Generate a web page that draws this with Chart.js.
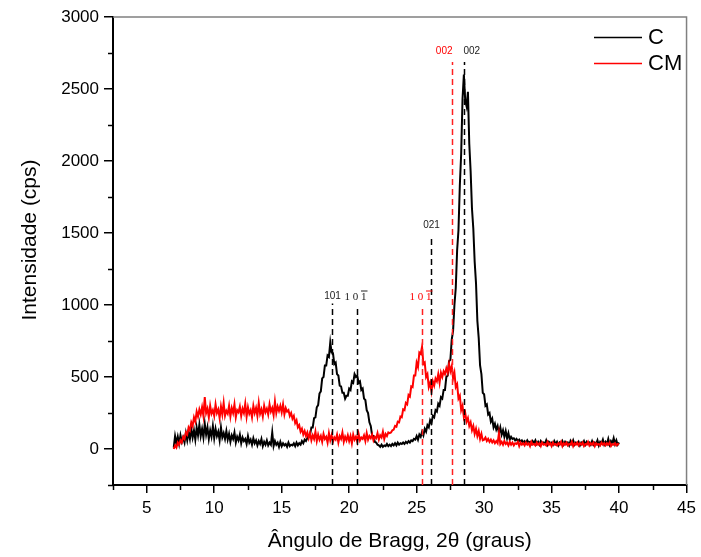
<!DOCTYPE html>
<html>
<head>
<meta charset="utf-8">
<script src="https://cdn.jsdelivr.net/npm/chart.js@4.4.1/dist/chart.umd.min.js"></script>
<style>
  html, body { margin: 0; padding: 0; background: #ffffff; }
  #wrap { width: 701px; height: 557px; }
</style>
</head>
<body>
<div id="wrap"><canvas id="xrd" width="701" height="557"></canvas></div>
<script>
// Difratograma de raios X: amostras C e CM, varredura de 7 a 40 graus (2θ), passo 0.1
const ANGLE_START = 7.0;
const ANGLE_STEP = 0.1;

// Intensidade (cps) da amostra C, um valor por passo
const cIntensity = [
  10, 90, 40, 85, 35, 95, 50, 80, 45, 110,
  60, 120, 70, 140, 80, 130, 65, 150, 95, 170,
  90, 140, 80, 175, 100, 150, 70, 130, 85, 160,
  75, 140, 90, 120, 60, 150, 80, 110, 70, 125,
  65, 105, 50, 95, 70, 115, 45, 85, 60, 100,
  40, 80, 55, 70, 35, 90, 45, 65, 30, 75,
  40, 60, 25, 55, 35, 70, 20, 50, 30, 60,
  25, 45, 30, 115, 20, 55, 30, 45, 15, 50,
  20, 40, 25, 35, 15, 45, 20, 30, 25, 40,
  20, 45, 25, 40, 30, 55, 40, 65, 55, 75,
  95, 100, 150, 150, 215, 220, 290, 305, 385, 400,
  490, 500, 580, 580, 650, 640, 740, 670, 665, 590,
  600, 520, 510, 440, 435, 390, 390, 350, 370, 370,
  420, 410, 470, 460, 520, 500, 510, 460, 470, 410,
  420, 350, 340, 270, 250, 185, 160, 95, 90, 50,
  45, 30, 25, 15, 30, 15, 25, 20, 35, 20,
  30, 20, 35, 25, 40, 25, 45, 30, 40, 35,
  45, 35, 50, 40, 55, 45, 60, 55, 70, 65,
  90, 65, 100, 85, 120, 95, 140, 120, 165, 150,
  200, 180, 230, 220, 270, 260, 315, 300, 360, 350,
  410, 410, 500, 510, 610, 620, 760, 820, 1000, 1120,
  1380, 1520, 1830, 2050, 2430, 2600, 2420, 2380, 2480, 2120,
  1930, 1670, 1530, 1300, 1150, 890, 770, 580, 520, 390,
  380, 300, 310, 240, 250, 190, 210, 150, 175, 135,
  160, 110, 150, 100, 130, 85, 125, 75, 110, 65,
  85, 70, 75, 60, 70, 55, 65, 50, 60, 45,
  55, 40, 60, 45, 50, 35, 55, 40, 60, 35,
  50, 30, 55, 40, 45, 35, 60, 30, 50, 40,
  45, 30, 55, 35, 50, 25, 45, 35, 55, 30,
  50, 35, 45, 25, 55, 35, 60, 30, 45, 35,
  50, 25, 45, 35, 55, 30, 50, 35, 45, 30,
  55, 30, 45, 35, 60, 25, 50, 40, 65, 30,
  50, 35, 70, 30, 55, 40, 75, 35, 60, 30,
  45
];

// Intensidade (cps) da amostra CM, um valor por passo
const cmIntensity = [
  0, 25, 10, 45, 30, 60, 45, 85, 70, 115,
  100, 150, 130, 185, 160, 220, 190, 260, 225, 275,
  240, 290, 230, 360, 250, 280, 220, 300, 245, 270,
  230, 310, 250, 275, 215, 295, 240, 320, 230, 265,
  245, 300, 225, 285, 250, 310, 220, 270, 255, 295,
  230, 280, 250, 315, 225, 290, 245, 270, 220, 300,
  250, 285, 230, 320, 245, 275, 225, 300, 255, 280,
  240, 310, 260, 285, 235, 330, 250, 295, 265, 300,
  255, 310, 240, 285, 260, 270, 230, 250, 210, 230,
  180, 200, 150, 165, 120, 140, 100, 125, 90, 115,
  75, 110, 60, 95, 70, 120, 55, 100, 65, 90,
  50, 105, 70, 85, 45, 110, 60, 95, 50, 80,
  65, 100, 45, 90, 70, 115, 50, 85, 60, 95,
  55, 90, 40, 100, 65, 85, 50, 105, 60, 80,
  70, 95, 55, 110, 65, 90, 75, 100, 60, 85,
  75, 110, 65, 95, 80, 120, 70, 105, 90, 115,
  110, 115, 130, 135, 160, 155, 190, 185, 225, 220,
  275, 270, 320, 310, 375, 365, 435, 430, 510, 510,
  600, 570, 670, 660, 710, 590, 600, 500, 520, 430,
  460, 400, 470, 440, 490, 470, 520, 460, 530, 500,
  540, 520, 560, 530, 590, 540, 575, 490, 530, 430,
  450, 350, 370, 270, 300, 220, 250, 190, 215, 160,
  185, 130, 160, 105, 140, 90, 125, 70, 105, 60,
  65, 80, 55, 70, 50, 65, 45, 60, 40, 55,
  40, 110, 35, 50, 30, 55, 35, 45, 25, 50,
  30, 45, 25, 40, 35, 50, 20, 45, 30, 40,
  25, 45, 30, 40, 20, 50, 30, 35, 25, 45,
  30, 40, 20, 45, 30, 35, 25, 50, 30, 40,
  20, 45, 30, 35, 25, 40, 30, 50, 20, 40,
  30, 45, 25, 35, 30, 50, 20, 40, 30, 45,
  25, 40, 30, 45, 20, 35, 30, 50, 25, 40,
  30, 45, 20, 40, 30, 35, 25, 45, 30, 40,
  25, 40, 30, 45, 20, 35, 30, 40, 25, 35,
  30
];

// Marcas principais dos eixos
const xTickValues = [5, 10, 15, 20, 25, 30, 35, 40, 45];
const yTickValues = [0, 500, 1000, 1500, 2000, 2500, 3000];

// Reflexões indexadas (posição 2θ, altura da linha tracejada, altura do rótulo)
const cPeakAngles = [18.7, 20.6, 26.1, 28.5];
const cPeakTops = [1010, 1000, 1467, 2688];
const cPeakLabelY = [1062, 1052, 1552, 2760];
const cPeakLabels = ['101', '1 0 1\u0304', '021', '002'];

const cmPeakAngles = [25.4, 27.6];
const cmPeakTops = [1000, 2688];
const cmPeakLabelY = [1052, 2760];
const cmPeakLabels = ['1 0 1\u0304', '002'];

const seriesNames = ['C', 'CM'];
const seriesColors = ['#000000', '#ff0000'];

const xTitle = 'Ângulo de Bragg, 2θ (graus)';
const yTitle = 'Intensidade (cps)';

const FONT = "'Liberation Sans', Arial, sans-serif";
const SERIF = "'Liberation Serif', 'Times New Roman', serif";

function toPoints(values) {
  return values.map((v, i) => ({ x: +(ANGLE_START + i * ANGLE_STEP).toFixed(2), y: v }));
}

// Linhas tracejadas das reflexões e seus índices de Miller
const peakMarkers = {
  id: 'peakMarkers',
  afterDatasetsDraw(chart) {
    const { ctx, scales: { x, y } } = chart;
    const groups = [
      { angles: cPeakAngles, tops: cPeakTops, labelY: cPeakLabelY, labels: cPeakLabels,
        line: '#000000', text: '#222222', align: ['center', 'center', 'center', 'left'] },
      { angles: cmPeakAngles, tops: cmPeakTops, labelY: cmPeakLabelY, labels: cmPeakLabels,
        line: '#ff2020', text: '#ff0000', align: ['center', 'right'] }
    ];
    ctx.save();
    groups.forEach(g => {
      g.angles.forEach((a, i) => {
        const px = Math.round(x.getPixelForValue(a)) + 0.5;
        ctx.beginPath();
        ctx.setLineDash([6, 4]);
        ctx.lineWidth = 1.5;
        ctx.strokeStyle = g.line;
        ctx.moveTo(px, y.getPixelForValue(y.min));
        ctx.lineTo(px, y.getPixelForValue(g.tops[i]));
        ctx.stroke();
        ctx.setLineDash([]);

        const label = g.labels[i];
        const ly = y.getPixelForValue(g.labelY[i]);
        ctx.fillStyle = g.text;
        ctx.textBaseline = 'middle';
        if (label.includes('\u0304')) {
          // índice com barra sobre o último dígito, em fonte serifada
          const plain = label.replace('\u0304', '');
          ctx.font = '11px ' + SERIF;
          ctx.textAlign = 'left';
          const w = ctx.measureText(plain).width;
          const x0 = px - w / 2 - 2;
          ctx.fillText(plain, x0, ly);
          const lastW = ctx.measureText(plain.slice(-1)).width;
          ctx.strokeStyle = g.text;
          ctx.lineWidth = 1;
          ctx.beginPath();
          ctx.moveTo(x0 + w - lastW, ly - 6.5);
          ctx.lineTo(x0 + w + 1, ly - 6.5);
          ctx.stroke();
        } else {
          ctx.font = '10px ' + FONT;
          const al = g.align[i];
          ctx.textAlign = al;
          const tx = al === 'left' ? px - 1 : px;
          ctx.fillText(label, tx, ly);
        }
      });
    });
    ctx.restore();
  }
};

// Moldura superior/direita, marcas menores, títulos dos eixos e legenda
const frameDecor = {
  id: 'frameDecor',
  afterDraw(chart) {
    const { ctx, chartArea: ca, scales: { x, y } } = chart;
    ctx.save();
    ctx.strokeStyle = '#808080';
    ctx.lineWidth = 1.5;
    ctx.beginPath();
    ctx.moveTo(ca.left, ca.top);
    ctx.lineTo(ca.right, ca.top);
    ctx.lineTo(ca.right, ca.bottom);
    ctx.stroke();

    ctx.strokeStyle = '#000000';
    ctx.lineWidth = 1.5;
    for (let v = 2.5; v < 45; v += 5) {
      const px = Math.round(x.getPixelForValue(v)) + 0.5;
      ctx.beginPath();
      ctx.moveTo(px, ca.bottom);
      ctx.lineTo(px, ca.bottom + 5);
      ctx.stroke();
    }
    for (let v = -250; v < 3000; v += 500) {
      const py = Math.round(y.getPixelForValue(v)) + 0.5;
      ctx.beginPath();
      ctx.moveTo(ca.left - 5, py);
      ctx.lineTo(ca.left, py);
      ctx.stroke();
    }

    ctx.fillStyle = '#000000';
    ctx.font = '21px ' + FONT;
    ctx.textAlign = 'center';
    ctx.textBaseline = 'middle';
    ctx.fillText(xTitle, (ca.left + ca.right) / 2, 541);
    ctx.save();
    ctx.translate(30, 240);
    ctx.rotate(-Math.PI / 2);
    ctx.fillText(yTitle, 0, 0);
    ctx.restore();

    ctx.font = '22px ' + FONT;
    ctx.textAlign = 'left';
    seriesNames.forEach((name, i) => {
      const ly = 37 + i * 26;
      ctx.strokeStyle = seriesColors[i];
      ctx.lineWidth = 1.3;
      ctx.beginPath();
      ctx.moveTo(594, ly + 0.5);
      ctx.lineTo(642, ly + 0.5);
      ctx.stroke();
      ctx.fillStyle = '#000000';
      ctx.fillText(name, 648, ly + 1);
    });
    ctx.restore();
  }
};

new Chart(document.getElementById('xrd'), {
  type: 'line',
  data: {
    datasets: [
      { label: seriesNames[0], data: toPoints(cIntensity), borderColor: seriesColors[0],
        borderWidth: 2, pointRadius: 0, tension: 0, order: 1 },
      { label: seriesNames[1], data: toPoints(cmIntensity), borderColor: seriesColors[1],
        borderWidth: 2, pointRadius: 0, tension: 0, order: 0 }
    ]
  },
  options: {
    responsive: false,
    devicePixelRatio: 1,
    animation: false,
    layout: { padding: { top: 17, right: 12, left: 0, bottom: 0 } },
    plugins: { legend: { display: false }, tooltip: { enabled: false } },
    scales: {
      x: {
        type: 'linear', min: 2.5, max: 45,
        afterBuildTicks: s => { s.ticks = xTickValues.map(v => ({ value: v })); },
        ticks: { color: '#000', padding: 5, maxRotation: 0, autoSkip: false,
                 font: { family: FONT, size: 17 }, callback: v => String(v) },
        grid: { drawOnChartArea: false, drawTicks: true, tickLength: 8, color: '#000', lineWidth: 1.5 },
        border: { color: '#000', width: 2 },
        afterFit: s => { s.height = 72; }
      },
      y: {
        type: 'linear', min: -250, max: 3000,
        afterBuildTicks: s => { s.ticks = yTickValues.map(v => ({ value: v })); },
        ticks: { color: '#000', padding: 5, autoSkip: false,
                 font: { family: FONT, size: 17 }, callback: v => String(v) },
        grid: { drawOnChartArea: false, drawTicks: true, tickLength: 9, color: '#000', lineWidth: 1.5 },
        border: { color: '#000', width: 2 },
        afterFit: s => { s.width = 113; }
      }
    }
  },
  plugins: [peakMarkers, frameDecor]
});
</script>
</body>
</html>
